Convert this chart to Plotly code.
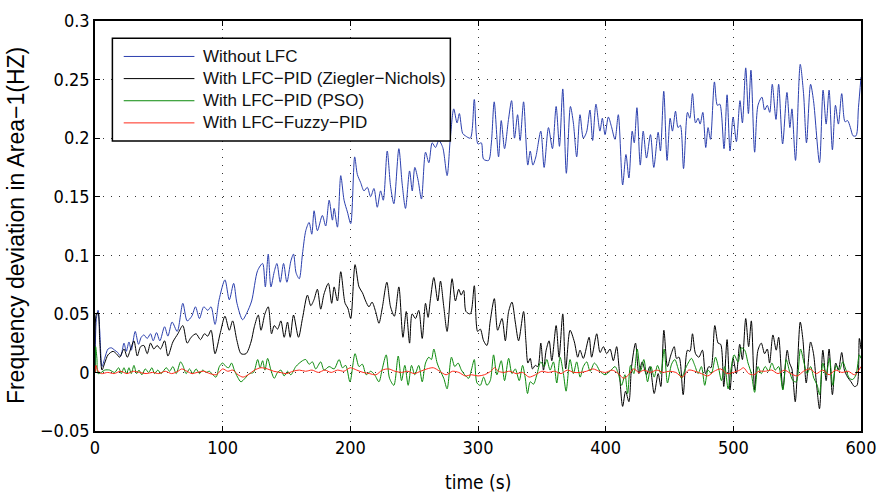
import plotly.graph_objects as go

# ---------------- data ----------------
t_without = [0, 1, 2.4, 3.7, 5.5, 7.6, 10.2, 12.8, 15.4, 17.8, 20.1, 22.7, 24.5, 26.6, 28.4, 31.5, 34.1, 36.2, 38.3, 40.9,
             43.5, 45.6, 48.2, 50.8, 54.5, 57.1, 60.4, 64.4, 68.8, 72.2, 75.8, 78.7, 81.8, 85.2, 88.3, 90.9, 94.0, 97.2,
             101.8, 105.2, 108.6, 111.2, 115.6, 119.0, 122.7, 127.4, 131.3, 133.4, 135.7, 137.8, 140.4, 142.5, 145.1,
             147.7, 150.3, 153.4, 155.5, 157.5, 160, 162.5, 165.1, 167.7, 169.8, 171.6, 174.2, 178.1, 180.7, 183.4, 186,
             187.3, 189.9, 192.5, 195.1, 197.7, 200.3, 203.4, 205.5, 208.1, 210.7, 213.3, 215.9, 218.5, 221.1, 223.7,
             225.8, 228.9, 231.5, 234.1, 238, 240.6, 243.2, 246.4, 248.5, 250.5, 253.1, 255.7, 258.9, 261.5, 264.1,
             266.7, 269.3, 272.4, 275.8, 278.4, 281, 283.6, 285.4, 288, 290.1, 294, 297.1, 300, 302.6, 304.4, 308.3,
             310.4, 312.7, 316.1, 318.2, 320.8, 323.9, 326.3, 328.6, 331, 333, 335.7, 339, 340.9, 343, 345.3, 349.2,
             351.8, 355.2, 358.3, 361.2, 363.8, 366.4, 369.2, 372.4, 374.7, 377.3, 379.9, 382.5, 385, 387.7, 389.8,
             392.4, 395.5, 397.4, 399.5, 402.1, 404.5, 407.3, 409.9, 413.3, 415.9, 418.2, 420.8, 422.4, 424.5, 427.1,
             429.4, 432, 435.1, 437.7, 441.1, 442.9, 445.5, 448.1, 450.5, 452.3, 454.7, 456.7, 458.5, 461, 464.1,
             465.9, 468, 470.4, 472.4, 474, 476.1, 478.4, 480.2, 482.1, 485.2, 487.5, 489.4, 492.7, 495.1, 497.4,
             499.8, 502.4, 505.2, 507.1, 509.7, 511.8, 513.8, 516.7, 519.3, 522.4, 524.5, 526.6, 528.5, 530.5, 533.4,
             535.5, 538.6, 542, 544.3, 545.9, 548.7, 552.4, 555, 557.3, 560.5, 562.8, 567.5, 570.3, 572.7, 575, 577.6,
             580, 582.3, 584.9, 587.5, 589.5, 591.7, 593.8, 596.1, 598, 600]
f_without = [0.0, 0.045, 0.053, 0.036, 0.005, 0.012, 0.020, 0.021, 0.019, 0.017, 0.014, 0.025, 0.018, 0.026, 0.019,
             0.035, 0.024, 0.030, 0.032, 0.029, 0.033, 0.027, 0.034, 0.027, 0.039, 0.031, 0.043, 0.035, 0.059, 0.044,
             0.048, 0.056, 0.046, 0.056, 0.053, 0.056, 0.041, 0.062, 0.079, 0.062, 0.076, 0.059, 0.045, 0.051, 0.061,
             0.087, 0.093, 0.073, 0.101, 0.073, 0.086, 0.093, 0.077, 0.093, 0.077, 0.095, 0.101, 0.085, 0.080, 0.101,
             0.121, 0.128, 0.118, 0.138, 0.121, 0.134, 0.125, 0.147, 0.130, 0.140, 0.124, 0.168, 0.147, 0.137, 0.127,
             0.184, 0.169, 0.162, 0.155, 0.158, 0.150, 0.157, 0.141, 0.155, 0.147, 0.189, 0.159, 0.144, 0.191, 0.161,
             0.140, 0.172, 0.155, 0.175, 0.164, 0.148, 0.188, 0.179, 0.196, 0.192, 0.198, 0.192, 0.168, 0.201, 0.225,
             0.213, 0.221, 0.204, 0.202, 0.200, 0.233, 0.195, 0.196, 0.182, 0.181, 0.195, 0.231, 0.184, 0.215, 0.191,
             0.216, 0.232, 0.200, 0.220, 0.198, 0.231, 0.177, 0.189, 0.177, 0.184, 0.206, 0.175, 0.209, 0.191, 0.227,
             0.193, 0.242, 0.170, 0.227, 0.213, 0.184, 0.220, 0.200, 0.205, 0.224, 0.198, 0.229, 0.206, 0.217, 0.203,
             0.218, 0.210, 0.199, 0.220, 0.160, 0.186, 0.166, 0.206, 0.196, 0.226, 0.177, 0.206, 0.183, 0.203, 0.175,
             0.205, 0.189, 0.240, 0.181, 0.217, 0.206, 0.223, 0.209, 0.211, 0.174, 0.222, 0.217, 0.238, 0.213, 0.217,
             0.212, 0.222, 0.192, 0.209, 0.199, 0.248, 0.228, 0.229, 0.191, 0.237, 0.189, 0.218, 0.197, 0.232, 0.213,
             0.260, 0.221, 0.258, 0.188, 0.228, 0.235, 0.224, 0.228, 0.222, 0.246, 0.216, 0.246, 0.195, 0.239, 0.209,
             0.225, 0.181, 0.263, 0.238, 0.196, 0.246, 0.232, 0.179, 0.241, 0.212, 0.241, 0.190, 0.228, 0.212, 0.238,
             0.214, 0.215, 0.209, 0.202, 0.202, 0.226, 0.252]

t_zn = [0, 1.1, 2.4, 3.7, 5.5, 7.6, 10.2, 14.1, 16.7, 19.3, 22.7, 25.3, 27.9, 30.5, 33.1, 35.7, 38.3, 40.9, 43.5, 46.1,
        48.7, 51.3, 54.5, 57.1, 61, 64.9, 68.8, 72.2, 75.3, 79.2, 82.6, 85.7, 88.3, 90.9, 94, 98.2, 101.8, 105.2, 107.8,
        111.2, 114.4, 118.3, 122.2, 124.8, 127.9, 130, 133.1, 135.7, 138.3, 140.4, 143, 145.6, 148.2, 150.8, 152.9,
        155.5, 159.4, 162.5, 166.4, 169, 171.5, 174.2, 176.8, 179.4, 182.8, 185.4, 187.3, 189.9, 192.5, 195.9, 198,
        200.3, 203.7, 206.8, 209.5, 212, 214.6, 217, 219.8, 222.4, 225, 228.6, 231.5, 234.5, 238, 241.2, 243.8, 246.4,
        248.4, 251, 253.6, 256.3, 258.9, 260.9, 262.8, 265.4, 268.5, 270.6, 273.2, 275.8, 279.7, 282.3, 284.9, 286.8,
        288.8, 290.6, 294, 297.1, 299.7, 301.8, 304.4, 307, 309.6, 312.8, 315.4, 318.8, 321.4, 324, 326.6, 329.2,
        331.8, 335.7, 337.5, 339.1, 340.9, 342.7, 344.8, 346.9, 349.2, 351.3, 353.4, 355.7, 357.8, 361.2, 363.5,
        366.4, 368.7, 372.1, 375.5, 378.1, 379.9, 382.5, 387, 389, 393, 395.6, 398.2, 400.8, 403.4, 406, 408.6,
        410.4, 413.3, 415.6, 418.2, 420.3, 423.4, 426, 428.6, 432, 434.6, 438, 441.1, 443.2, 445.6, 448.4, 451.1,
        453.7, 455.5, 457.5, 460.7, 464.1, 466, 468, 470.4, 473, 475.8, 478.2, 480.8, 482.5, 485.5, 488.1, 490.1,
        492.5, 495.1, 497.4, 499.8, 502.4, 505, 507.1, 509.7, 512, 514.1, 516.7, 519.3, 521.9, 524.5, 526.6, 528.4,
        531, 533.6, 535.5, 538.8, 542.2, 544, 545.9, 548.5, 552.4, 554.5, 557.1, 560.5, 562.8, 564.9, 567.5, 570.1,
        572.7, 575, 577.6, 580.2, 582.3, 584.9, 587, 589.5, 592.2, 594.8, 596.9, 598.7, 600]
f_zn = [0.0, 0.050, 0.051, 0.027, 0.002, 0.008, 0.015, 0.018, 0.016, 0.013, 0.020, 0.013, 0.020, 0.027, 0.014, 0.022,
        0.023, 0.016, 0.025, 0.020, 0.023, 0.020, 0.027, 0.014, 0.026, 0.033, 0.040, 0.025, 0.030, 0.033, 0.028, 0.033,
        0.031, 0.036, 0.016, 0.034, 0.048, 0.036, 0.044, 0.027, 0.016, 0.016, 0.026, 0.039, 0.049, 0.036, 0.050, 0.056,
        0.033, 0.040, 0.037, 0.044, 0.030, 0.043, 0.030, 0.049, 0.030, 0.046, 0.066, 0.057, 0.062, 0.071, 0.054, 0.067,
        0.076, 0.059, 0.073, 0.061, 0.086, 0.059, 0.055, 0.046, 0.092, 0.073, 0.068, 0.061, 0.056, 0.060, 0.052, 0.042,
        0.055, 0.077, 0.056, 0.048, 0.073, 0.030, 0.052, 0.025, 0.050, 0.046, 0.053, 0.029, 0.059, 0.047, 0.063, 0.081,
        0.061, 0.078, 0.056, 0.035, 0.080, 0.061, 0.071, 0.066, 0.070, 0.052, 0.050, 0.074, 0.035, 0.037, 0.027, 0.023,
        0.044, 0.063, 0.036, 0.046, 0.027, 0.052, 0.060, 0.043, 0.027, 0.052, 0.027, 0.008, 0.012, 0.003, 0.006, 0.005,
        0.025, 0.002, 0.019, 0.027, 0.010, 0.040, 0.013, 0.050, 0.003, 0.036, 0.026, 0.013, 0.019, 0.012, 0.030, 0.013,
        0.033, 0.017, 0.022, 0.016, 0.020, 0.010, 0.022, 0.005, -0.029, -0.016, -0.025, 0.005, 0.025, -0.001, 0.009,
        -0.002, 0.005, -0.018, -0.001, -0.012, 0.036, 0.005, 0.015, 0.022, 0.012, 0.013, -0.019, 0.019, 0.018, 0.033,
        0.016, 0.013, 0.019, -0.001, 0.005, 0.004, 0.040, 0.025, 0.024, -0.012, 0.028, -0.015, 0.012, -0.001, 0.024,
        0.011, 0.046, 0.022, 0.044, -0.015, 0.019, 0.025, 0.016, 0.020, 0.008, 0.032, 0.019, 0.030, -0.014, 0.019,
        0.008, 0.003, -0.025, 0.043, 0.028, -0.009, 0.026, 0.016, -0.007, -0.031, 0.019, -0.007, 0.020, -0.019, 0.008,
        0.002, 0.017, 0.002, -0.004, -0.008, -0.012, -0.011, 0.029, 0.020]

t_pso = [0, 0.5, 1.5, 2.4, 5, 7.6, 11.5, 15.4, 18.5, 20.6, 22.7, 24.7, 26.6, 28.4, 30.5, 32.6, 34.4, 36.7, 39.4, 42,
         44.6, 46.6, 49.2, 51.8, 55.8, 58.4, 61, 63.6, 67, 68.8, 71.4, 74, 76.6, 79.2, 81.8, 84.4, 87, 89.6, 92.2, 94.8,
         97.4, 100, 102.6, 104.7, 107, 109.1, 111.7, 114.3, 117.5, 120.9, 124.2, 127.4, 129.3, 131.3, 133.1, 135.2,
         137.8, 140.4, 143, 145.6, 148.2, 150.8, 153.4, 157.3, 162.5, 165.1, 167.7, 170.3, 172.9, 176.8, 179.4, 183.4,
         187.3, 191.2, 193.8, 196.4, 199.7, 203.7, 206.8, 209.4, 212.5, 215.9, 219, 222.4, 225, 228.1, 230.7, 234.1,
         237.5, 240.1, 242.7, 245.3, 247.9, 250.5, 253.6, 256.3, 258.9, 261.5, 263.5, 265.4, 268, 270.6, 273.2, 275.8,
         279.2, 281.8, 284.4, 287, 289.6, 292.7, 294.8, 297.1, 299.2, 301.8, 304.4, 307, 309.6, 312.2, 314.8, 318.2,
         320.8, 324, 326.6, 329.2, 332.3, 334.9, 336.9, 338.8, 340.9, 343.5, 346.1, 349.2, 351.8, 353.9, 356.5, 359.1,
         361.7, 364.3, 366.9, 369, 372.1, 374.7, 377.3, 380, 382.5, 385.2, 387.8, 391.1, 393, 395.6, 399.5, 403.4,
         407.3, 409.9, 412.5, 415.1, 417.2, 419.5, 422.1, 424.7, 427.3, 429.9, 432.8, 435.4, 438, 440.6, 443.2, 445.8,
         448.4, 451.6, 454.2, 456.8, 459.4, 462, 464.6, 467.2, 469.8, 472.4, 475, 477.6, 480.2, 482.8, 486, 488.6,
         490.7, 493.3, 495.9, 498.5, 500.6, 503.7, 506.3, 508.9, 511.5, 514.1, 516.7, 519.3, 521.9, 525, 527.6, 530.2,
         532.8, 535.5, 538.8, 541.4, 544, 546.7, 549.3, 552.6, 555.2, 557.8, 560.5, 563.1, 565.7, 567.5, 570.1, 572.7,
         575.3, 577.9, 580.5, 583.1, 585.7, 588.3, 590.9, 593.5, 596.1, 598.7, 600]
f_pso = [0.0, 0.022, 0.012, -0.001, 0.0, 0.002, 0.002, 0.0, 0.004, -0.001, 0.004, -0.001, 0.004, -0.001, 0.006, -0.001,
         0.002, -0.002, 0.003, 0.0, 0.004, -0.001, 0.002, -0.001, 0.004, 0.001, 0.005, -0.001, 0.009, 0.006, -0.001,
         0.003, -0.001, 0.003, -0.001, 0.002, 0.0, 0.001, -0.002, -0.004, 0.005, 0.008, 0.005, 0.004, 0.008, 0.002,
         -0.004, -0.008, -0.005, -0.001, 0.0, 0.011, 0.004, 0.010, 0.002, 0.012, 0.002, -0.005, 0.0, 0.002, -0.003,
         0.001, -0.002, 0.005, 0.010, 0.011, 0.007, 0.009, 0.003, 0.009, 0.002, 0.005, 0.003, 0.011, 0.004, 0.006,
         -0.008, 0.016, 0.005, 0.007, -0.002, 0.001, -0.002, -0.008, 0.003, 0.015, -0.005, -0.011, 0.014, -0.007,
         0.006, -0.011, 0.006, -0.002, 0.006, -0.008, 0.008, 0.013, 0.011, 0.020, 0.008, 0.001, -0.005, -0.014, 0.013,
         0.005, 0.008, 0.002, -0.002, -0.005, 0.002, 0.011, -0.009, -0.011, -0.004, -0.011, -0.007, 0.015, -0.002,
         0.010, -0.007, 0.012, -0.001, 0.003, -0.007, 0.006, -0.004, -0.018, -0.008, -0.010, -0.002, 0.009, 0.005,
         0.011, 0.002, 0.009, -0.009, 0.013, -0.001, -0.016, 0.011, -0.001, 0.009, -0.004, 0.005, 0.009, 0.001, 0.008,
         0.006, 0.001, -0.002, 0.001, 0.005, -0.001, -0.011, -0.002, -0.018, 0.006, -0.001, 0.020, 0.001, 0.011,
         -0.008, 0.005, -0.004, 0.006, -0.001, 0.020, -0.009, 0.007, 0.011, 0.003, -0.005, 0.002, 0.008, 0.012, 0.006,
         -0.001, 0.005, -0.011, 0.002, -0.001, 0.013, 0.003, -0.007, 0.005, -0.014, 0.005, 0.015, 0.009, 0.021, 0.019,
         0.008, -0.001, -0.017, 0.005, -0.001, 0.005, 0.001, 0.008, 0.002, 0.005, -0.015, 0.011, 0.001, -0.007, -0.008,
         0.020, 0.009, -0.001, 0.005, -0.005, -0.011, -0.019, 0.008, -0.002, 0.012, -0.011, 0.006, 0.002, 0.009,
         0.002, -0.005, -0.006, -0.002, 0.015, 0.012]

t_fuzzy = [0, 0.8, 2, 5, 10, 15, 20, 25, 30, 35, 40, 45, 50, 55, 60, 65, 68, 72, 76, 80, 85, 90, 95, 100, 104, 108,
           112, 116, 120, 125, 130, 135, 140, 145, 150, 155, 160, 165, 170, 175, 180, 185, 190, 195, 200, 205, 210,
           215, 220, 225, 230, 235, 240, 245, 250, 255, 260, 265, 270, 275, 280, 285, 290, 295, 300, 305, 310, 313,
           316, 320, 325, 330, 335, 340, 345, 350, 355, 360, 365, 370, 375, 380, 385, 390, 395, 400, 405, 410, 414,
           418, 422, 426, 430, 435, 440, 445, 450, 455, 460, 465, 470, 475, 480, 485, 490, 495, 500, 505, 508, 512,
           516, 520, 525, 530, 535, 540, 545, 550, 555, 560, 565, 570, 575, 580, 585, 590, 595, 600]
f_fuzzy = [0.0, 0.006, 0.002, -0.001, 0.0, -0.001, 0.001, -0.001, 0.001, 0.0, -0.001, 0.0, -0.001, 0.001, -0.001,
           0.001, 0.003, 0.001, -0.001, 0.0, 0.001, -0.001, -0.002, 0.003, 0.001, 0.002, -0.002, -0.004, -0.002, 0.002,
           0.004, 0.003, 0.001, 0.0, -0.001, 0.001, 0.002, 0.001, 0.002, 0.0, 0.002, 0.0, 0.002, 0.001, 0.004, 0.002,
           0.0, -0.001, -0.002, 0.002, 0.003, 0.001, 0.0, 0.001, -0.001, 0.001, 0.003, 0.004, 0.001, -0.002, 0.001,
           0.0, -0.003, -0.002, -0.003, -0.002, 0.001, 0.004, 0.001, 0.0, 0.001, -0.001, 0.0, -0.004, -0.002, 0.001,
           0.0, 0.001, -0.001, 0.002, 0.0, 0.0, 0.001, 0.003, 0.001, 0.0, 0.002, -0.001, -0.005, -0.002, 0.003, 0.0,
           0.002, 0.0, 0.002, 0.0, 0.001, 0.0, -0.004, 0.002, 0.001, -0.001, -0.003, 0.001, 0.003, -0.001, 0.0, 0.002,
           0.004, -0.001, -0.002, 0.001, 0.001, 0.002, -0.001, 0.002, -0.001, -0.003, 0.001, 0.003, -0.001, 0.002,
           -0.002, 0.002, 0.0, 0.001, -0.002, 0.005]

series_names = ["Without LFC", "With LFC\u2212PID (Ziegler\u2212Nichols)", "With LFC\u2212PID (PSO)",
                "With LFC\u2212Fuzzy\u2212PID"]
x_ticks = [0, 100, 200, 300, 400, 500, 600]
y_ticks = [-0.05, 0, 0.05, 0.1, 0.15, 0.2, 0.25, 0.3]
y_tick_text = ["\u22120.05", "0", "0.05", "0.1", "0.15", "0.2", "0.25", "0.3"]

# ---------------- figure ----------------
colors = ["#2b3fae", "#000000", "#0b8a0b", "#ff2a1a"]
xs = [t_without, t_zn, t_pso, t_fuzzy]
ys = [f_without, f_zn, f_pso, f_fuzzy]

fig = go.Figure()
for name, x, y, c in zip(series_names, xs, ys, colors):
    fig.add_trace(go.Scatter(x=x, y=y, mode="lines", name=name, showlegend=False,
                             line=dict(color=c, width=1, shape="spline", smoothing=0.8)))

tick_font = dict(family="Liberation Sans Narrow, DejaVu Sans Condensed, Arial Narrow, sans-serif", size=18,
                 color="#000")
grid_style = dict(showgrid=True, gridcolor="#333", griddash="1px,7px", gridwidth=1, zeroline=False)
fig.update_xaxes(range=[0, 600], tickvals=x_ticks, ticks="inside", ticklen=5, tickcolor="#000",
                 showline=True, linecolor="#000", linewidth=1.5, mirror="ticks", tickfont=tick_font, **grid_style)
fig.update_yaxes(range=[-0.05, 0.3], tickvals=y_ticks, ticktext=y_tick_text, ticks="inside", ticklen=5,
                 tickcolor="#000", showline=True, linecolor="#000", linewidth=1.5, mirror="ticks",
                 tickfont=tick_font, **grid_style)

# legend drawn as a box with sample lines and labels (paper coordinates)
fig.add_shape(type="rect", xref="paper", yref="paper", x0=0.0227, x1=0.4639, y0=0.7073, y1=0.958,
              line=dict(color="#000", width=1.5), fillcolor="white", layer="above")
row_y = [0.9135, 0.8595, 0.8055, 0.7515]
for name, c, yy in zip(series_names, colors, row_y):
    fig.add_shape(type="line", xref="paper", yref="paper", x0=0.0375, x1=0.1298, y0=yy, y1=yy,
                  line=dict(color=c, width=1), layer="above")
    fig.add_annotation(xref="paper", yref="paper", x=0.1385, y=yy, text=name, showarrow=False,
                       xanchor="left", yanchor="middle",
                       font=dict(family="Liberation Sans, Arial, sans-serif", size=17, color="#111"))

fig.add_annotation(xref="paper", yref="paper", x=0.5, y=-0.125, text="time (s)", showarrow=False,
                   xanchor="center", yanchor="middle",
                   font=dict(family="Liberation Sans Narrow, DejaVu Sans Condensed, sans-serif", size=19,
                             color="#000"))
fig.add_annotation(xref="paper", yref="paper", x=-0.103, y=0.5, text="Frequency deviation in Area\u22121(HZ)",
                   showarrow=False, textangle=-90, xanchor="center", yanchor="middle",
                   font=dict(family="Liberation Sans, Arial, sans-serif", size=23, color="#000"))

fig.update_layout(width=886, height=495, margin=dict(l=95, r=23, t=10, b=64),
                  plot_bgcolor="white", paper_bgcolor="white", showlegend=False)

fig.write_html("out.html", config={"displayModeBar": False},
               post_script="document.body.style.margin='0';document.body.style.overflow='hidden';")
